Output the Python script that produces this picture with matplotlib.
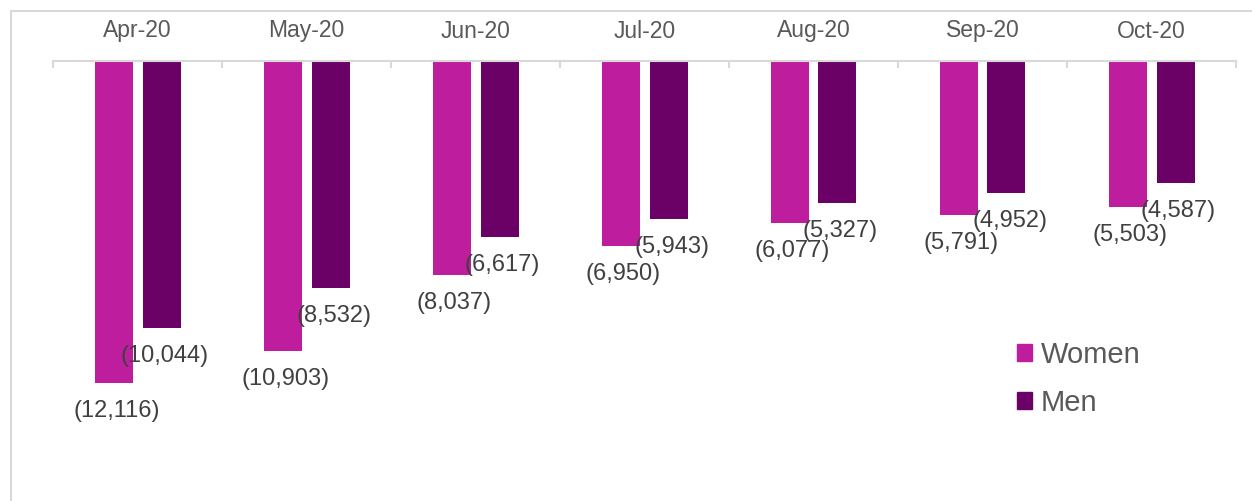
import matplotlib
matplotlib.use('Agg')
from matplotlib import pyplot as plt
from matplotlib.patches import Rectangle, Patch

months = ['Apr-20', 'May-20', 'Jun-20', 'Jul-20', 'Aug-20', 'Sep-20', 'Oct-20']
women = [12116, 10903, 8037, 6950, 6077, 5791, 5503]
men = [10044, 8532, 6617, 5943, 5327, 4952, 4587]

women_color = '#BE1E9D'
men_color = '#6B0066'
grid_color = '#D9D9D9'

plt.rcParams['font.family'] = ['Liberation Sans', 'DejaVu Sans']

W, H = 1252, 501
fig = plt.figure(figsize=(W / 100, H / 100), dpi=100)

# outer chart frame (top and left edges visible)
fig.patches.append(Rectangle((10.5 / W, -0.1), 1.2, (H - 10.5) / H + 0.1,
                             transform=fig.transFigure, fill=False,
                             edgecolor=grid_color, linewidth=1.5))

ax = fig.add_axes([53 / W, 0, 1183 / W, (H - 61) / H])
x = list(range(len(months)))
bw = 38 / 169
off = 24 / 169
ax.bar([i - off for i in x], [-v for v in women], width=bw, color=women_color, label='Women')
ax.bar([i + off for i in x], [-v for v in men], width=bw, color=men_color, label='Men')

for i in x:
    ax.annotate(f'({women[i]:,})', (i - off, -women[i]), xytext=(3, -28),
                textcoords='offset pixels', ha='center', va='center',
                fontsize=17, color='#404040')
    ax.annotate(f'({men[i]:,})', (i + off, -men[i]), xytext=(3, -28),
                textcoords='offset pixels', ha='center', va='center',
                fontsize=17, color='#404040')

ax.set_xlim(-0.5, len(months) - 0.5)
ax.set_ylim(-16550, 0)
for s in ['left', 'right', 'bottom']:
    ax.spines[s].set_visible(False)
ax.spines['top'].set_color(grid_color)
ax.spines['top'].set_linewidth(1.5)
ax.set_yticks([])
ax.set_xticks([])

# category boundary ticks on the top axis
for b in range(len(months) + 1):
    ax.plot([b - 0.5, b - 0.5], [0, -220], color=grid_color, linewidth=1.5, clip_on=False)

for i, m in enumerate(months):
    ax.text(i, 1 + 30 / (H - 61), m, transform=ax.get_xaxis_transform(),
            ha='center', va='center', fontsize=16.5, color='#595959')

leg = ax.legend(handles=[Patch(color=women_color, label='Women'), Patch(color=men_color, label='Men')],
                loc='center left', bbox_to_anchor=((1002 - 53) / 1183, (H - 379) / (H - 61)),
                frameon=False, fontsize=21, handlelength=0.52, handleheight=0.52,
                handletextpad=0.3, labelspacing=0.68, borderpad=0)
for t in leg.get_texts():
    t.set_color('#595959')

fig.savefig('out.png', dpi=100)
